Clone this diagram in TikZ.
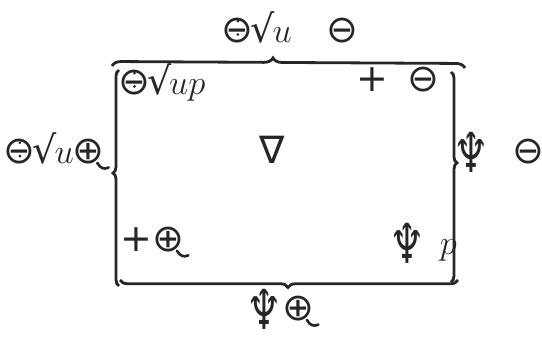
\documentclass[tikz,border=0pt]{standalone}
\usepackage{fontspec}
\setmainfont{DejaVu Sans}
\usetikzlibrary{decorations.pathreplacing}

% circle with a cross and a tail
\newcommand{\crossq}{⊕\kern-.22em\tikz[x=1em,y=1em,baseline=0pt]\draw[line width=.07em,line cap=round] (0,0.02) .. controls (.08,-.12) and (.18,-.16) .. (.3,-.1);}
% circle with a bar and two dots
\newcommand{\divsalt}{\ooalign{⊖\cr\hidewidth\tikz[x=1em,y=1em,baseline=0pt]{\fill (0,.55) circle (.04) (0,.2) circle (.04);}\hidewidth}}
% tall trident
\newcommand{\trid}{\raisebox{-.22em}{\scalebox{1.05}[1.45]{♆}}}
\newcommand{\rad}{\kern-.08em√\kern-.06em}

\begin{document}
\begin{tikzpicture}[x=0.5pt,y=-0.5pt,
    sym/.style={font=\fontsize{19}{21}\selectfont, inner sep=0pt, text=black!85},
    curly/.style={decorate, line width=1.4pt, draw=black!85, decoration={brace, amplitude=#1}}]
    \useasboundingbox (0,0) rectangle (542,337);

    % Ends of the four braces
    \coordinate (top w) at (112,66);
    \coordinate (top e) at (465,68);
    \coordinate (rgt n) at (451,72);
    \coordinate (rgt s) at (451,282);
    \coordinate (bot e) at (458,280);
    \coordinate (bot w) at (120,280);
    \coordinate (lft s) at (119,286);
    \coordinate (lft n) at (119,70);

    % Braces
    \draw[curly=4.5pt, decoration={aspect=0.456}] (top w) -- (top e);
    \draw[curly=3pt, decoration={aspect=0.433}] (rgt n) -- (rgt s);
    \draw[curly=3.75pt, decoration={aspect=0.503}] (bot e) -- (bot w);
    \draw[curly=3pt, decoration={aspect=0.523}] (lft s) -- (lft n);

    % Outer labels
    \node[sym] (lbl top) at (290,27) {\divsalt\rad$u$\hspace{.9em}⊖};
    \node[sym] (lbl lft) at (57,152) {\divsalt\rad$u$\kern-.04em\crossq};
    \node[sym] (lbl rgt) at (499,152) {\trid\hspace{0.6em}⊖};
    \node[sym] (lbl bot) at (283,309) {\trid\crossq};

    % Inner labels
    \node[sym] (in nw) at (162,82) {\divsalt\rad$u$$p$};
    \node[sym] (in ne) at (398,80) {+\hspace{0.5em}⊖};
    \node[sym] (in c) at (272,150) {∇};
    \node[sym] (in sw) at (155,243) {+\crossq};
    \node[sym] (in se) at (423,243) {\trid\hspace{0.4em}$p$};
\end{tikzpicture}
\end{document}
